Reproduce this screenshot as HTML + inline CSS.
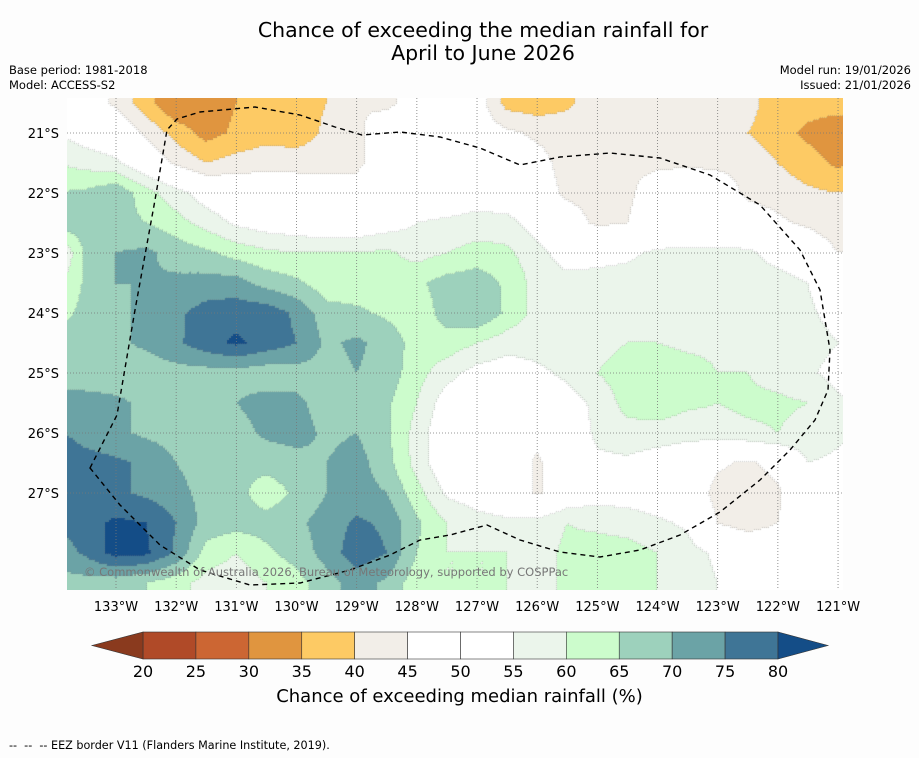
<!DOCTYPE html>
<html><head><meta charset="utf-8">
<style>
body{margin:0;background:#fdfdfd;font-family:"DejaVu Sans","Liberation Sans",sans-serif;}
#wrap{position:relative;width:919px;height:758px;overflow:hidden;background:#fdfdfd;}
.t{position:absolute;white-space:nowrap;color:#000;}
</style></head><body>
<div id="wrap">
<div class="t" style="left:0;width:966px;top:19px;text-align:center;font-size:20.5px;line-height:23px;">Chance of exceeding the median rainfall for<br>April to June 2026</div>
<div class="t" style="left:9px;top:63px;font-size:11.5px;line-height:15px;">Base period: 1981-2018<br>Model: ACCESS-S2</div>
<div class="t" style="right:8px;top:63px;font-size:11.5px;line-height:15px;text-align:right;">Model run: 19/01/2026<br>Issued: 21/01/2026</div>
<canvas id="map" width="776" height="492" style="position:absolute;left:67px;top:98px;"></canvas>
<svg id="ov" width="919" height="758" style="position:absolute;left:0;top:0;"></svg>
<div class="t" style="left:84px;top:565px;font-size:11.5px;color:#777;">© Commonwealth of Australia 2026, Bureau of Meteorology, supported by COSPPac</div>
<div class="t" style="left:0;width:919px;top:686px;text-align:center;font-size:18px;">Chance of exceeding median rainfall (%)</div>
<div class="t" style="left:9px;top:739px;font-size:11.2px;">-- &nbsp;-- &nbsp;-- EEZ border V11 (Flanders Marine Institute, 2019).</div>
</div>
<script>
const lons=[-134,-133.5,-133,-132.5,-132,-131.5,-131,-130.5,-130,-129.5,-129,-128.5,-128,-127.5,-127,-126.5,-126,-125.5,-125,-124.5,-124,-123.5,-123,-122.5,-122,-121.5,-121,-120.5];
const lats=[-20.5,-21,-21.5,-22,-22.5,-23,-23.5,-24,-24.5,-25,-25.5,-26,-26.5,-27,-27.5,-28,-28.5];
const chance=[
[50,48,44,37,30,32,35,38,38,40,45,44,47,48,48,38,37,39,43,45,43,43,44,42,37,37,37,38],
[55,52,50,44,38,33,36,38,37,41,44,48,50,50,49,46,44,43,44,44,44,44,44,40,37,34,32,34],
[60,58,56,50,44,40,42,43,43,43,44,48,50,50,50,50,47,43,42,44,44,44,44,44,40,37,34,36],
[65,66,69,62,57,52,50,50,49,48,47,50,50,50,52,50,48,44,43,44,48,50,48,44,43,41,40,42],
[68,68,67,65,62,58,54,52,51,50,50,52,55,56,57,57,52,48,44,45,48,50,50,48,46,44,42,44],
[52,66,70,71,68,66,63,61,60,60,60,61,58,60,62,61,57,52,53,54,56,56,56,56,53,50,45,45],
[58,66,70,70,71,72,72,68,66,62,62,62,64,67,68,64,58,57,57,57,57,57,57,57,57,55,50,47],
[62,67,68,72,74,77,78,78,74,67,66,64,62,67,70,64,58,57,57,57,57,57,57,57,57,56,53,48],
[68,68,69,71,74,78,81,78,75,69,71,68,63,63,60,57,57,57,58,60,60,59,59,58,58,57,55,50],
[68,67,67,67,68,68,68,67,68,68,70,68,62,57,53,52,54,56,60,63,63,62,60,60,58,56,53,52],
[72,72,71,69,68,68,70,72,71,68,67,66,60,52,50,50,51,53,56,62,63,61,60,61,61,60,56,54],
[76,73,71,69,68,68,68,71,72,69,70,66,58,50,45,49,47,51,56,58,58,57,58,59,60,58,56,54],
[78,77,76,74,70,67,66,67,68,70,72,67,58,50,48,50,44,50,54,54,52,50,46,44,47,55,54,53],
[77,77,76,74,72,68,67,62,66,70,72,70,62,54,52,50,44,50,52,52,51,50,43,42,44,52,52,52],
[75,78,81,80,75,68,67,67,69,72,76,74,66,60,57,56,57,60,59,58,56,54,45,42,45,50,50,50],
[72,76,82,81,74,63,60,64,67,72,78,75,65,60,60,60,58,61,62,62,60,57,54,52,51,50,50,50],
[68,68,67,65,62,58,57,60,63,68,72,69,62,60,60,60,60,60,63,63,60,58,55,52,50,50,50,50]];
const levels=[20,25,30,35,40,45,50,55,60,65,70,75,80];
const levelColors=["#8a3a1e","#b04a28","#cc6633","#e0953f","#fdca64","#f2eee8","#ffffff","#ffffff","#ebf5eb","#ccfccc","#9dd1bc","#6ba3a6","#3f7596","#144d87"];
const tickLabels=["20","25","30","35","40","45","50","55","60","65","70","75","80"];
const lonTicks=[-133,-132,-131,-130,-129,-128,-127,-126,-125,-124,-123,-122,-121];
const latTicks=[-21,-22,-23,-24,-25,-26,-27];

const X0=67,Y0=98,W=776,H=492;
const xOf=lon=>116+(lon+133)*60.17;
const yOf=lat=>133+(-21-lat)*60;
const lonOf=x=>(x-116)/60.17-133;
const latOf=y=>-21-(y-133)/60;
function colorFor(v){let i=0;while(i<levels.length&&v>=levels[i])i++;return levelColors[i];}
function sample(lon,lat){
  let fi=(lon-lons[0])/0.5, fj=(lats[0]-lat)/0.5;
  fi=Math.max(0,Math.min(lons.length-1.001,fi));fj=Math.max(0,Math.min(lats.length-1.001,fj));
  const i=Math.floor(fi),j=Math.floor(fj),a=fi-i,b=fj-j;
  return chance[j][i]*(1-a)*(1-b)+chance[j][i+1]*a*(1-b)+chance[j+1][i]*(1-a)*b+chance[j+1][i+1]*a*b;
}
const ctx=document.getElementById('map').getContext('2d');
const S=2;
for(let y=0;y<H;y+=S){for(let x=0;x<W;x+=S){
  ctx.fillStyle=colorFor(sample(lonOf(X0+x+S/2),latOf(Y0+y+S/2)));ctx.fillRect(x,y,S,S);}}
ctx.fillStyle="rgba(120,120,120,0.35)";
for(let y=0;y<H;y+=S){for(let x=0;x<W;x+=S){
  const c=colorFor(sample(lonOf(X0+x+1),latOf(Y0+y+1)));
  const r=colorFor(sample(lonOf(X0+x+1+S),latOf(Y0+y+1)));
  const d=colorFor(sample(lonOf(X0+x+1),latOf(Y0+y+1+S)));
  if(c!==r||c!==d)ctx.fillRect(x+1,y+1,1,1);}}

const ns="http://www.w3.org/2000/svg";
const ov=document.getElementById('ov');
const FF='DejaVu Sans, Liberation Sans, sans-serif';
function mk(tag,attrs){const e=document.createElementNS(ns,tag);for(const k in attrs)e.setAttribute(k,attrs[k]);ov.appendChild(e);return e;}
lonTicks.forEach(lon=>{
  const x=xOf(lon);
  if(x<X0+W){const l=mk('line',{x1:x,x2:x,y1:Y0,y2:Y0+H,stroke:'#777','stroke-width':0.8,'stroke-dasharray':'1,2'});
  
  }
  const t=mk('text',{x:x,y:611,'text-anchor':'middle','font-size':13,'font-family':FF});
  t.textContent=Math.abs(lon)+'°W';
  
  
});
latTicks.forEach(lat=>{
  const y=yOf(lat);
  const l=mk('line',{x1:X0,x2:X0+W,y1:y,y2:y,stroke:'#777','stroke-width':0.8,'stroke-dasharray':'1,2'});
  
  
  const t=mk('text',{x:59,y:y+5,'text-anchor':'end','font-size':13,'font-family':FF});
  t.textContent=Math.abs(lat)+'°S';
  
  
});
const eez=mk('path',{d:"M90,468 L117,415 L135,310 L155,200 L167,130 L177,119 L200,112 L255,107 L300,115 L335,127 L362,135 L400,132 L440,137 L480,148 L520,165 L560,157 L610,153 L660,158 L710,175 L760,205 L800,250 L820,290 L830,350 L828,390 L815,420 L790,450 L760,480 L720,512 L680,535 L640,550 L600,557 L560,552 L520,540 L487,525 L450,535 L420,540 L390,555 L350,570 L300,583 L250,585 L200,570 L160,545 L120,505 Z",fill:'none',stroke:'#000','stroke-width':1.4,'stroke-dasharray':'5,4'});



const cbX=v=>143+(v-20)*(635/60);
const cbY=632,cbH=27;
for(let i=0;i<levels.length-1;i++){
  const r=mk('rect',{x:cbX(levels[i]),y:cbY,width:cbX(levels[i+1])-cbX(levels[i]),height:cbH,fill:levelColors[i+1],stroke:'#333','stroke-width':0.6});
  
  
}
const lo=mk('polygon',{points:`${cbX(20)},${cbY} ${cbX(20)},${cbY+cbH} 92,${cbY+cbH/2}`,fill:levelColors[0],stroke:'#333','stroke-width':0.6});


const hi=mk('polygon',{points:`${cbX(80)},${cbY} ${cbX(80)},${cbY+cbH} 828,${cbY+cbH/2}`,fill:levelColors[13],stroke:'#333','stroke-width':0.6});


levels.forEach((v,i)=>{
  const t=mk('text',{x:cbX(v),y:677,'text-anchor':'middle','font-size':16,'font-family':FF});
  t.textContent=tickLabels[i];
  
  
});
</script>
</body></html>
